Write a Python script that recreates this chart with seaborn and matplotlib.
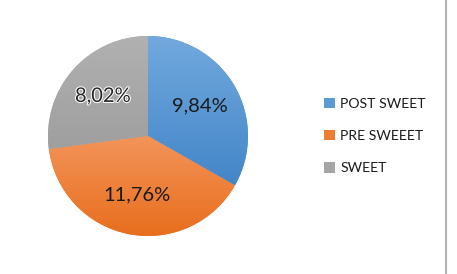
import numpy as np
import matplotlib
matplotlib.use("Agg")
import matplotlib.pyplot as plt
import matplotlib.patheffects as pe
from matplotlib.colors import LinearSegmentedColormap
from matplotlib.patches import Patch
import seaborn as sns

categories = ["POST SWEET", "PRE SWEEET", "SWEET"]
values = [9.84, 11.76, 8.02]
labels = ["9,84%", "11,76%", "8,02%"]
top_colors = ["#72a9de", "#f39459", "#b1b1b1"]
bottom_colors = ["#4386c8", "#e86d1c", "#9f9f9f"]
legend_colors = ["#5b9bd5", "#ed7d31", "#a5a5a5"]

sns.set_theme(style="white")
plt.rcParams["font.family"] = ["Lato", "DejaVu Sans"]

fig = plt.figure(figsize=(4.57, 2.74), dpi=100)
fig.patch.set_facecolor("white")
ax = fig.add_axes([48 / 457, 38 / 274, 200 / 457, 200 / 274])

wedges, texts = ax.pie(values, startangle=90, counterclock=False,
                       colors=legend_colors, radius=1.0,
                       wedgeprops=dict(linewidth=0))
ax.set_xlim(-1, 1)
ax.set_ylim(-1, 1)
ax.set_aspect("equal")
ax.axis("off")

# gradient fill per wedge
for w, ct, cb in zip(wedges, top_colors, bottom_colors):
    cmap = LinearSegmentedColormap.from_list("g", [cb, ct])
    grad = np.linspace(0, 1, 256).reshape(-1, 1)
    verts = w.get_path().vertices
    ymin, ymax = verts[:, 1].min(), verts[:, 1].max()
    im = ax.imshow(grad, extent=(-1.05, 1.05, ymin, ymax), origin="lower",
                   cmap=cmap, aspect="auto", zorder=2)
    im.set_clip_path(w)
ax.set_xlim(-1, 1)
ax.set_ylim(-1, 1)

# labels at 0.6 radius
total = sum(values)
start = 90.0
for v, lab, idx in zip(values, labels, range(len(values))):
    span = 360.0 * v / total
    mid = np.deg2rad(start - span / 2)
    start -= span
    x, y = 0.6 * np.cos(mid), 0.6 * np.sin(mid)
    if idx == 2:
        t = ax.text(x, y, lab, ha="center", va="center", fontsize=14.5,
                    color="#262626", zorder=5)
        t.set_path_effects([pe.withStroke(linewidth=1.5, foreground="white")])
    else:
        ax.text(x, y, lab, ha="center", va="center", fontsize=14.5,
                color="#1a1a1a", zorder=5)

handles = [Patch(facecolor=c, edgecolor="none") for c in legend_colors]
leg = fig.legend(handles, categories, loc="center left",
                 bbox_to_anchor=(318 / 457, 1 - 136 / 274),
                 frameon=False, fontsize=10.1, handlelength=0.78,
                 handleheight=0.78, handletextpad=0.4, labelspacing=1.42,
                 borderaxespad=0)
for t in leg.get_texts():
    t.set_color("#1a1a1a")

# right border line
fig.add_artist(plt.Line2D([445.5 / 457, 445.5 / 457], [0, 1],
                          transform=fig.transFigure, color="#b4b4b4", lw=1.5))

fig.savefig("out.png", dpi=100, facecolor="white")
